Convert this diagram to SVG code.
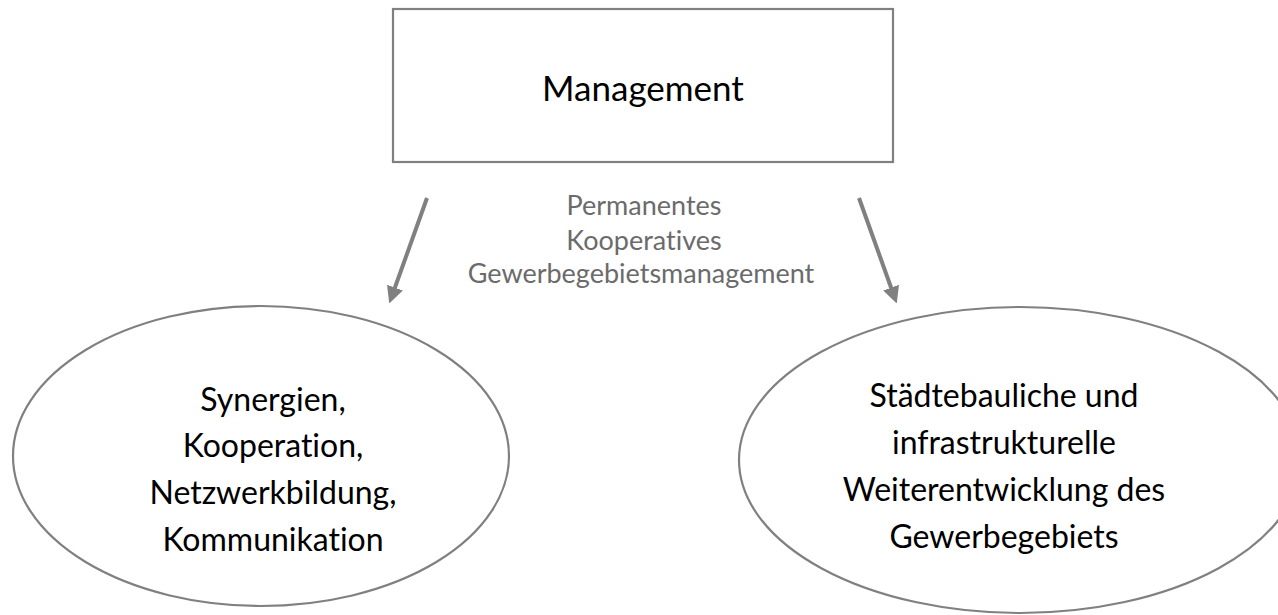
<svg xmlns="http://www.w3.org/2000/svg" width="1278" height="615" viewBox="0 0 1278 615">
<style>
.shape{fill:#ffffff;stroke:#808080;stroke-width:2.2}
.node{font-family:Lato,"Liberation Sans",sans-serif;font-size:32px;fill:#000000;text-anchor:middle;font-variant-ligatures:none;font-feature-settings:"liga" 0}
.big{font-size:35px}
.lbl{font-family:Lato,"Liberation Sans",sans-serif;font-size:27px;fill:#6b6b6b;text-anchor:middle;font-variant-ligatures:none;font-feature-settings:"liga" 0}
.conn{stroke:#808080;stroke-width:4;fill:none;marker-end:url(#ah)}
</style>
<defs>
<marker id="ah" viewBox="0 0 10 10" refX="5" refY="5" markerWidth="4.2" markerHeight="4.2" orient="auto" markerUnits="strokeWidth">
<path d="M0,0 L10,5 L0,10 z" fill="#808080"/>
</marker>
</defs>
<rect width="1278" height="615" fill="#ffffff"/>
<g id="management">
<rect class="shape" x="393" y="9" width="500" height="153"/>
<text class="node big" x="643" y="101">Management</text>
</g>
<g id="synergien">
<ellipse class="shape" cx="261" cy="456" rx="248" ry="150"/>
<text class="node" x="273" y="411">Synergien,</text>
<text class="node" x="273" y="457">Kooperation,</text>
<text class="node" x="273" y="504">Netzwerkbildung,</text>
<text class="node" x="273" y="551">Kommunikation</text>
</g>
<g id="staedtebau">
<ellipse class="shape" cx="1020" cy="460" rx="281" ry="153"/>
<text class="node" x="1004" y="407">Städtebauliche und</text>
<text class="node" x="1004" y="454">infrastrukturelle</text>
<text class="node" x="1004" y="501">Weiterentwicklung des</text>
<text class="node" x="1004" y="548">Gewerbegebiets</text>
</g>
<g id="label">
<text class="lbl" x="644" y="215">Permanentes</text>
<text class="lbl" x="644" y="250">Kooperatives</text>
<text class="lbl" x="641" y="283">Gewerbegebietsmanagement</text>
</g>
<g id="connectors">
<line class="conn" x1="427" y1="198" x2="392.1" y2="295.5"/>
<line class="conn" x1="859" y1="198" x2="893.9" y2="295.5"/>
</g>
</svg>
